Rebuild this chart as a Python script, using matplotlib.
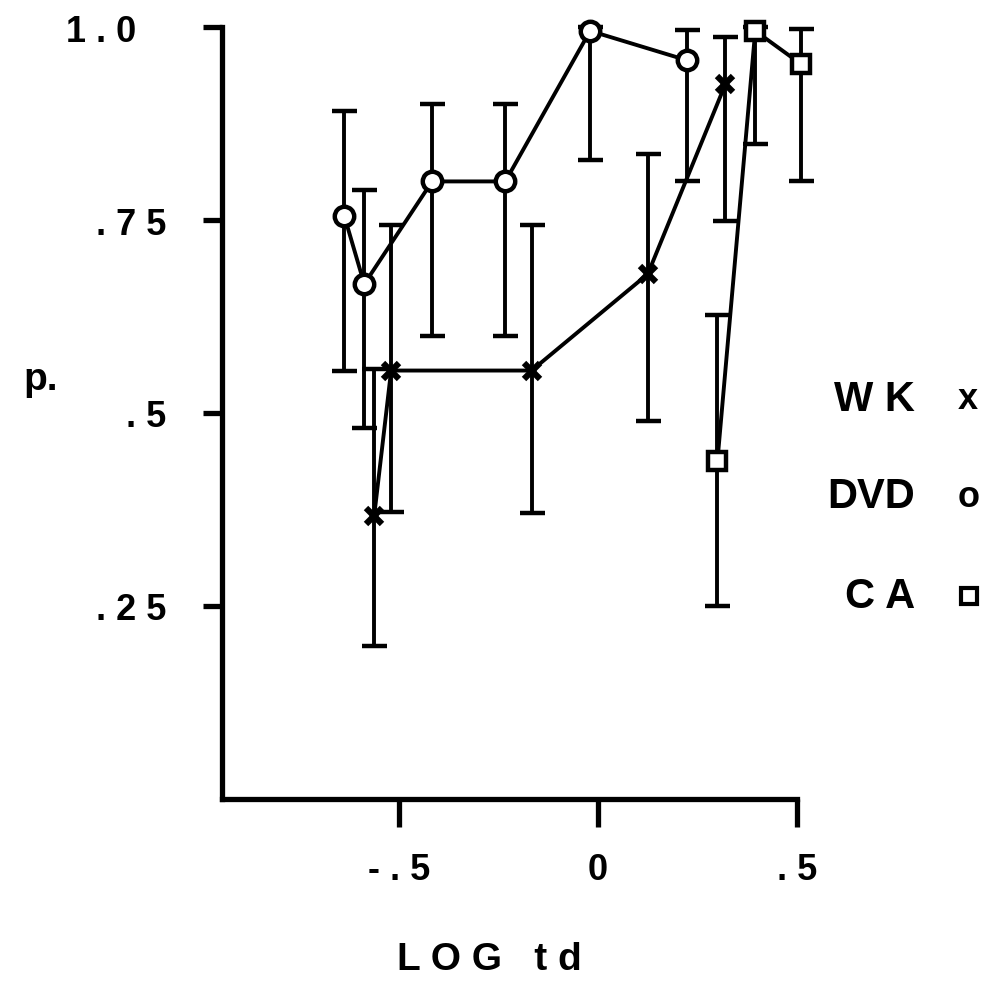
import matplotlib
matplotlib.use("Agg")
import matplotlib.pyplot as plt
import numpy as np

plt.rcParams['font.family'] = ['Liberation Sans', 'DejaVu Sans']
plt.rcParams['font.weight'] = 'bold'

# data
wk_x = [-0.5625, -0.52, -0.167, 0.125, 0.32]
wk_y = [0.367, 0.555, 0.555, 0.68, 0.926]
wk_lo = [0.198, 0.372, 0.37, 0.49, 0.749]
wk_hi = [0.557, 0.744, 0.744, 0.835, 0.987]

dvd_x = [-0.6375, -0.5875, -0.417, -0.233, -0.02, 0.223]
dvd_y = [0.755, 0.667, 0.80, 0.80, 0.995, 0.957]
dvd_lo = [0.555, 0.48, 0.60, 0.60, 0.828, 0.80]
dvd_hi = [0.891, 0.789, 0.90, 0.90, 1.0, 0.996]

ca_x = [0.30, 0.395, 0.51]
ca_y = [0.438, 0.995, 0.952]
ca_lo = [0.25, 0.848, 0.80]
ca_hi = [0.627, 1.0, 0.997]

xticks = [-0.5, 0, 0.5]
xtick_labels = ['- . 5', '0', '. 5']
yticks = [0.25, 0.5, 0.75, 1.0]
ytick_labels = ['. 2 5', '. 5', '. 7 5', '1 . 0   ']

fig = plt.figure(figsize=(9.88, 9.87), dpi=100)
ax = fig.add_axes([0.2247, 0.1895, 0.582, 0.7821])

def draw(x, y, lo, hi, marker, ms):
    y = np.array(y)
    err = [y - np.array(lo), np.array(hi) - y]
    ax.errorbar(x, y, yerr=err, fmt='none', ecolor='black', elinewidth=2.8,
                capsize=9, capthick=3.2, clip_on=False, zorder=2)
    ax.plot(x, y, color='black', lw=2.8, clip_on=False, zorder=3)
    if marker == 'x':
        ax.plot(x, y, 'x', color='black', ms=ms, mew=4.5, clip_on=False, zorder=4)
    else:
        ax.plot(x, y, marker, color='black', mfc='white', mec='black', ms=ms,
                mew=3.2, clip_on=False, zorder=4)

draw(wk_x, wk_y, wk_lo, wk_hi, 'x', 11)
draw(dvd_x, dvd_y, dvd_lo, dvd_hi, 'o', 14)
draw(ca_x, ca_y, ca_lo, ca_hi, 's', 13)

ax.set_xlim(-0.945, 0.5)
ax.set_ylim(0, 1.0)
for s in ['top', 'right']:
    ax.spines[s].set_visible(False)
for s in ['left', 'bottom']:
    ax.spines[s].set_linewidth(3.8)
ax.set_xticks(xticks)
ax.set_xticklabels(xtick_labels)
ax.set_yticks(yticks)
ax.set_yticklabels(ytick_labels)
ax.tick_params(axis='x', length=20, width=3.8, pad=18, labelsize=26)
ax.tick_params(axis='y', length=14, width=3.8, pad=26, labelsize=26)

fig.text(0.041, 0.615, 'p.', fontsize=28, fontweight='bold', ha='center', va='center')
fig.text(0.495, 0.027, 'L O G   t d', fontsize=28, fontweight='bold', ha='center', va='center')

leg_y = [0.595, 0.496, 0.395]
leg_names = ['W K', 'DVD', 'C A']
for name, yy in zip(leg_names, leg_y):
    fig.text(0.926, yy, name, fontsize=30, fontweight='bold', ha='right', va='center')
fig.text(0.98, leg_y[0], 'x', fontsize=26, fontweight='bold', ha='center', va='center')
fig.text(0.98, leg_y[1], 'o', fontsize=26, fontweight='bold', ha='center', va='center')
ax.plot([0.981], [leg_y[2]], 's', ms=12, mfc='white', mec='black', mew=3,
        transform=fig.transFigure, clip_on=False)

fig.savefig('out.png', dpi=100)
